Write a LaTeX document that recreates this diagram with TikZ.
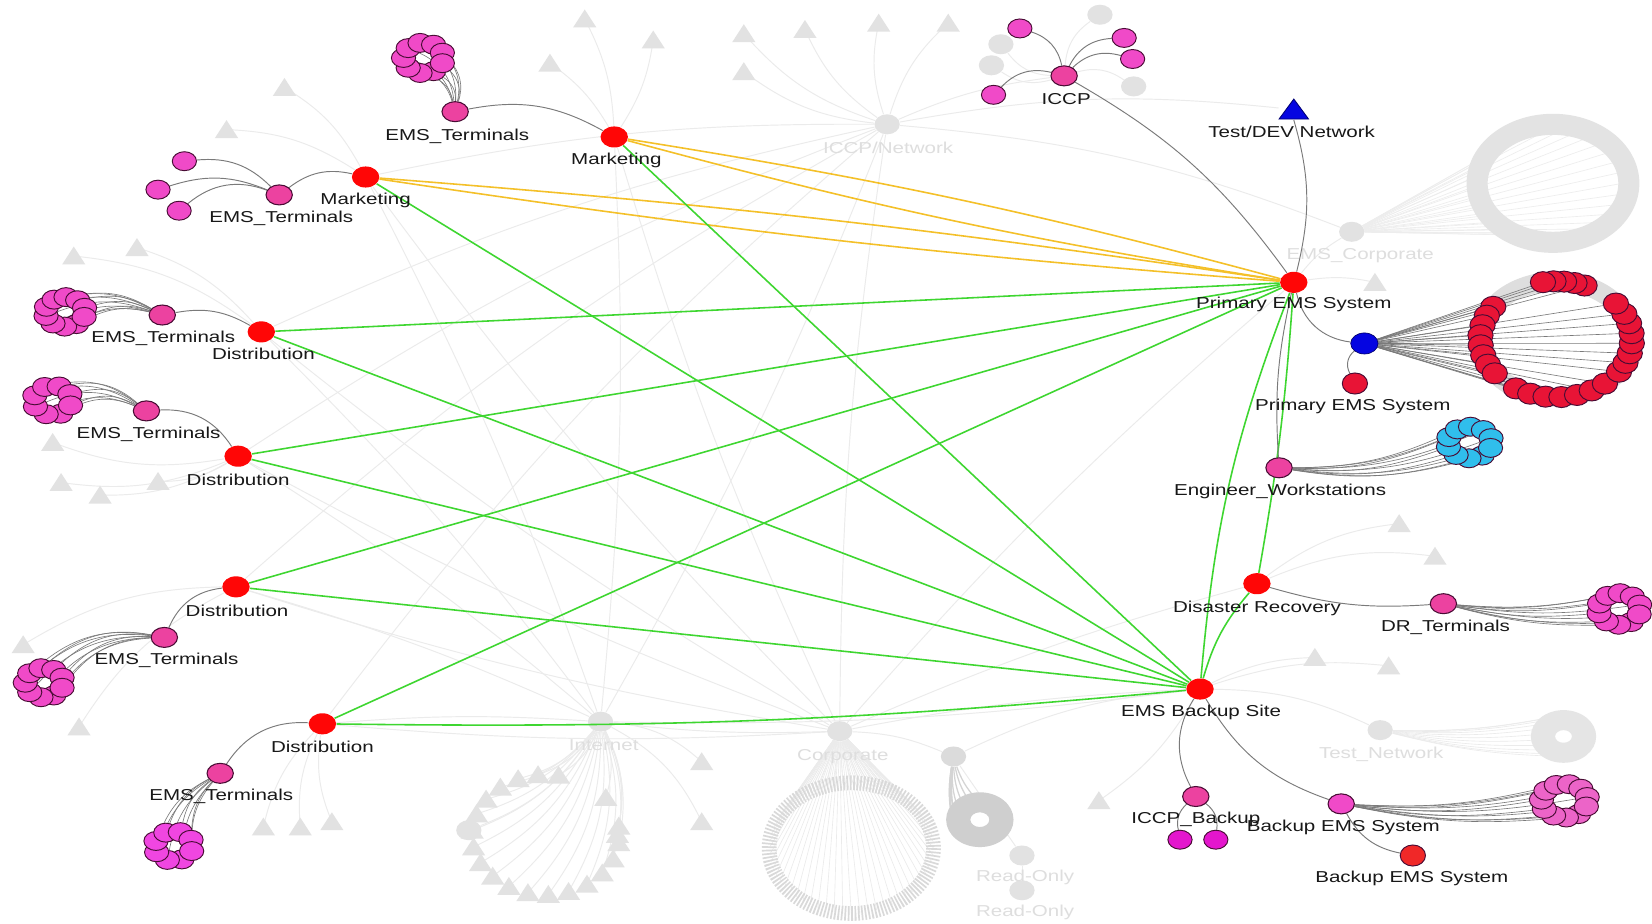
\documentclass[tikz,border=0pt]{standalone}
\usepackage{fontspec}
\setmainfont{Liberation Sans}[FakeStretch=1.3]
\usetikzlibrary{shapes.geometric}
\pgfdeclarelayer{paper}
\pgfdeclarelayer{ghostwires}
\pgfdeclarelayer{ghost}
\pgfdeclarelayer{wires}
\pgfsetlayers{paper,ghostwires,ghost,wires,main}

\definecolor{hubred}{RGB}{255,6,6}
\definecolor{termpink}{RGB}{236,66,160}
\definecolor{leafpink}{RGB}{240,74,200}
\definecolor{violetpink}{RGB}{240,70,225}
\definecolor{softpink}{RGB}{236,100,200}
\definecolor{magleaf}{RGB}{228,22,205}
\definecolor{rimdark}{RGB}{72,12,52}
\definecolor{ringred}{RGB}{232,20,54}
\definecolor{brightred}{RGB}{240,40,40}
\definecolor{wscyan}{RGB}{48,190,236}
\definecolor{hostblue}{RGB}{5,5,225}
\definecolor{linkgreen}{RGB}{62,214,48}
\definecolor{linkgold}{RGB}{244,192,40}
\definecolor{wire}{RGB}{122,122,122}
\definecolor{ghost}{RGB}{226,226,226}
\definecolor{ghostline}{RGB}{235,235,235}
\definecolor{ghosttext}{RGB}{222,222,222}
\definecolor{labelink}{RGB}{24,24,24}

% faded triangle marker with a named centre
\newcommand\gtri[3]{%
  \coordinate (#1) at ({#2},{#3});
  \fill[ghost] ({#2-11},{#3+8}) -- ({#2+11},{#3+8}) -- ({#2},{#3-9}) -- cycle;}

% ring of leaf nodes fed by a bundle of wires from a parent node
% #1 name, #2/#3 centre, #4/#5 radii, #6 count, #7 fill, #8 parent, #9 bend
\newcommand\flower[9]{%
  \foreach \k in {1,...,#6}{%
    \pgfmathsetmacro\fa{360*\k/#6+20}%
    \node[leaf, fill=#7] (#1\k) at ({#2+#4*cos(\fa)},{#3+#5*sin(\fa)}) {};
    \begin{pgfonlayer}{wires}\draw[bundle] (#8) to[#9] (#1\k);\end{pgfonlayer}
  }}

\begin{document}
\begin{tikzpicture}[x=0.5pt,y=-0.5pt,
  hub/.style={ellipse, fill=hubred, minimum width=13pt, minimum height=10pt, inner sep=0pt},
  term/.style={ellipse, draw=rimdark, line width=0.5pt, fill=termpink, minimum width=12.5pt, minimum height=9.5pt, inner sep=0pt},
  leaf/.style={ellipse, draw=rimdark, line width=0.45pt, minimum width=11.5pt, minimum height=9pt, inner sep=0pt},
  ghostnode/.style={ellipse, fill=ghost, minimum width=12pt, minimum height=9.5pt, inner sep=0pt},
  lbl/.style={font=\fontsize{7.5}{9}\selectfont, text=labelink, inner sep=0pt},
  ghostlbl/.style={lbl, text=ghosttext},
  wire/.style={draw=wire, line width=0.45pt},
  bundle/.style={draw=wire, line width=0.3pt},
  ghostwire/.style={draw=ghostline, line width=0.45pt},
  greenlink/.style={draw=linkgreen, line width=0.75pt},
  goldlink/.style={draw=linkgold, line width=0.75pt},
]
\begin{pgfonlayer}{paper}
  \fill[white] (0,0) rectangle (1568,877);
\end{pgfonlayer}
\useasboundingbox (0,0) rectangle (1568,877);

% ---------- site hubs ----------
\node[hub] (M1) at (583,130) {};
\node[hub] (M2) at (347,168) {};
\node[hub] (D1) at (248,315) {};
\node[hub] (D2) at (226,433) {};
\node[hub] (D3) at (224,557) {};
\node[hub] (D4) at (306,687) {};
\node[hub] (P)  at (1228,268) {};
\node[hub] (DR) at (1193,554) {};
\node[hub] (B)  at (1139,654) {};

% ---------- group nodes ----------
\node[term] (T1) at (432,106) {};
\node[term] (T2) at (265,185) {};
\node[term] (T3) at (154,299) {};
\node[term] (T4) at (139,390) {};
\node[term] (T5) at (156,605) {};
\node[term] (T6) at (209,734) {};
\node[term] (ICCP) at (1010,72) {};
\node[term] (EW) at (1214,444) {};
\node[term] (DRT) at (1370,573) {};
\node[term] (ICB) at (1135,756) {};
\node[term, fill=leafpink] (BES) at (1273,763) {};
\node[leaf, fill=brightred, minimum width=12pt, minimum height=10pt] (BESr) at (1341,812) {};
\node[ellipse, fill=hostblue, draw=blue!40!black, line width=0.3pt, minimum width=13pt, minimum height=10pt, inner sep=0pt] (HB) at (1295,326) {};
\node[leaf, fill=ringred, minimum width=12pt, minimum height=10pt] (PR) at (1286,364) {};

% Test/DEV network marker
\filldraw[fill=hostblue, draw=blue!45!black, line width=0.4pt] (1214,113) -- (1242,113) -- (1228,94) -- cycle;
\node[minimum width=14pt, minimum height=9.5pt, inner sep=0pt] (TD) at (1228,104) {};

% single leaves
\node[leaf, fill=leafpink] (T2a) at (175,153) {};
\node[leaf, fill=leafpink] (T2b) at (150,180) {};
\node[leaf, fill=leafpink] (T2c) at (170,200) {};
\node[leaf, fill=leafpink] (IC1) at (968,27) {};
\node[leaf, fill=leafpink] (IC2) at (1067,36) {};
\node[leaf, fill=leafpink] (IC3) at (1075,56) {};
\node[leaf, fill=leafpink] (IC4) at (943,90) {};
\node[leaf, fill=magleaf] (ICB1) at (1120,797) {};
\node[leaf, fill=magleaf] (ICB2) at (1154,797) {};

% ---------- terminal clusters ----------
\flower{fa}{402}{55}{19}{14.5}{9}{leafpink}{T1}{bend right=30}
\flower{fb}{62}{296}{19}{14}{10}{leafpink}{T3}{bend right=20}
\flower{fc}{50}{380}{18}{14}{8}{leafpink}{T4}{bend right=25}
\flower{fd}{42}{648}{18}{14}{9}{leafpink}{T5}{bend right=25}
\flower{fe}{165}{803}{18}{14}{8}{violetpink}{T6}{bend right=20}
\flower{ff}{1395}{420}{21}{15}{10}{wscyan}{EW}{bend right=12}
\flower{fg}{1537}{578}{20}{15}{10}{leafpink}{DRT}{bend right=8}
\flower{fh}{1485}{760}{22}{16}{11}{softpink}{BES}{bend right=8}

% ring of primary servers
\foreach \a [count=\k] in {68,76,84,92,100,146,156,166,176,186,196,206,216,238,250,262,274,286,298,310,326,336,346,356,6,16,26,38}{
  \node[leaf, fill=ringred, minimum width=12pt, minimum height=10pt] (rg\k) at ({1477+72*cos(\a)},{322-55*sin(\a)}) {};
  \begin{pgfonlayer}{wires}\draw[bundle] (HB) -- (rg\k);\end{pgfonlayer}
}

% ---------- faded background network ----------
\begin{pgfonlayer}{ghost}
  \node[ghostnode] (gICN) at (842,118) {};
  \node[ghostnode] (gEC) at (1283,220) {};
  \node[ghostnode] (gIN) at (570,685) {};
  \node[ghostnode] (gCO) at (797,694) {};
  \node[ghostnode, fill=gray!28] (gRO) at (905,718) {};
  \node[ghostnode] (gTN) at (1310,693) {};
  \node[ghostnode] (gR1) at (970,812) {};
  \node[ghostnode] (gR2) at (970,845) {};
  \node[ghostnode] (gL1) at (1044,14) {};
  \node[ghostnode] (gL2) at (950,42) {};
  \node[ghostnode] (gL3) at (941,62) {};
  \node[ghostnode] (gL4) at (1076,82) {};
  \gtri{ta1}{555}{18} \gtri{ta2}{620}{38} \gtri{ta3}{522}{60} \gtri{ta4}{706}{32}
  \gtri{ta5}{764}{28} \gtri{ta6}{834}{22} \gtri{ta7}{900}{22} \gtri{ta8}{706}{68}
  \gtri{tb1}{270}{83} \gtri{tb2}{215}{123} \gtri{tb3}{130}{235} \gtri{tb4}{70}{243}
  \gtri{tc1}{50}{420} \gtri{tc2}{58}{458} \gtri{tc3}{95}{470} \gtri{tc4}{150}{457}
  \gtri{td1}{22}{612} \gtri{td2}{75}{690} \gtri{td3}{250}{785} \gtri{td4}{285}{785} \gtri{td5}{315}{780}
  \gtri{te1}{1305}{268} \gtri{te2}{1328}{497} \gtri{te3}{1362}{528} \gtri{te4}{1248}{624}
  \gtri{te5}{1318}{632} \gtri{te6}{1043}{760}
  \gtri{tf1}{575}{757} \gtri{tf2}{586}{792} \gtri{tf3}{666}{723} \gtri{tf4}{666}{780}
  \foreach \a [count=\k] in {80,96,...,368}{\gtri{ti\k}{518+70*cos(\a)}{792-57*sin(\a)}}
  \node[ghostnode] (gIx) at (445,788) {};
  % halo behind the primary server ring
  \draw[gray!26, line width=9pt] (1477,322) ellipse [x radius=72, y radius=55];
  % EMS_Corporate ring
  \draw[gray!22, line width=10pt] (1474,174) ellipse [x radius=72, y radius=56];
  % Corporate ring of hosts
  \draw[gray!30, line width=7pt, dash pattern=on 0.8pt off 0.8pt] (808,805) ellipse [x radius=78, y radius=62];
  % Read-Only ring
  \fill[gray!38, even odd rule] (930,778) ellipse [x radius=32, y radius=26] (930,778) ellipse [x radius=9, y radius=7];
  % Test_Network ring
  \fill[gray!20, even odd rule] (1484,699) ellipse [x radius=31, y radius=25] (1484,699) ellipse [x radius=8, y radius=6];
  \node[ghostlbl] (lgICN) at (843,140) {ICCP/Network};
  \node[ghostlbl] (lgEC) at (1291,243) {EMS\_Corporate};
  \node[ghostlbl] (lgIN) at (573,707) {Internet};
  \node[ghostlbl] (lgCO) at (800,718) {Corporate};
  \node[ghostlbl] (lgTN) at (1311,716) {Test\_Network};
  \node[ghostlbl] (lgR1) at (973,833) {Read-Only};
  \node[ghostlbl] (lgR2) at (973,866) {Read-Only};
\end{pgfonlayer}

\begin{pgfonlayer}{ghostwires}
  \foreach \t in {ta4,ta5,ta6,ta7,ta8}{\draw[ghostwire] (gICN) to[bend left=15] (\t);}
  \foreach \t in {gEC,TD,ICCP}{\draw[ghostwire] (gICN) to[bend left=8] (\t);}
  \foreach \t in {gL1,gL2,gL3,gL4}{\draw[ghostwire] (ICCP) to[bend left=25] (\t);}
  \foreach \t in {ta1,ta2,ta3}{\draw[ghostwire] (M1) to[bend right=12] (\t);}
  \foreach \t in {tb1,tb2}{\draw[ghostwire] (M2) to[bend right=15] (\t);}
  \foreach \t in {tb3,tb4}{\draw[ghostwire] (D1) to[bend right=15] (\t);}
  \foreach \t in {tc1,tc2,tc3,tc4}{\draw[ghostwire] (D2) to[bend left=15] (\t);}
  \foreach \t in {td1,td2}{\draw[ghostwire] (D3) to[bend right=15] (\t);}
  \foreach \t in {td3,td4,td5}{\draw[ghostwire] (D4) to[bend right=15] (\t);}
  \foreach \t in {te1,gEC}{\draw[ghostwire] (P) to[bend left=10] (\t);}
  \foreach \t in {te2,te3}{\draw[ghostwire] (DR) to[bend left=15] (\t);}
  \foreach \t in {te4,te5,te6,gTN}{\draw[ghostwire] (B) to[bend left=12] (\t);}
  \foreach \k in {1,...,19}{\draw[ghostwire] (gIN) to[bend left=18] (ti\k);}
  \foreach \t in {tf1,tf2,tf3,tf4,gIx}{\draw[ghostwire] (gIN) to[bend left=18] (\t);}
  \foreach \t in {M1,M2,D1,D2,D3,D4,P,B,DR,gICN,gIN}{\draw[ghostwire] (gCO) to[bend left=4] (\t);}
  \foreach \t in {M1,M2,D1,D2,D3,D4,B,gICN}{\draw[ghostwire] (gIN) to[bend right=4] (\t);}
  \foreach \t in {D1,D2,D3,D4,M2}{\draw[ghostwire] (gICN) to[bend right=6] (\t);}
  \draw[ghostwire] (gRO) -- (gR1);
  \draw[ghostwire] (gR1) -- (gR2);
  \draw[ghostwire] (gRO) to[bend right=10] (gCO);
  \draw[ghostwire] (gRO) to[bend left=10] (B);
  % fans into the faded rings
  \foreach \a [count=\k] in {0,12,...,348}{
    \coordinate (ecr\k) at ({1474+66*cos(\a)},{174-50*sin(\a)});
    \draw[draw=gray!14, line width=0.3pt] (gEC) -- (ecr\k);}
  \foreach \a [count=\k] in {0,6,...,354}{
    \coordinate (cor\k) at ({808+78*cos(\a)},{805-62*sin(\a)});
    \draw[draw=gray!16, line width=0.3pt] (gCO) -- (cor\k);}
  \foreach \a [count=\k] in {100,115,...,220}{
    \coordinate (ror\k) at ({930+26*cos(\a)},{778-21*sin(\a)});
    \draw[draw=gray!34, line width=0.6pt] (gRO) to[bend right=10] (ror\k);}
  \foreach \a [count=\k] in {100,115,...,260}{
    \coordinate (tnr\k) at ({1484+26*cos(\a)},{699-20*sin(\a)});
    \draw[draw=gray!16, line width=0.3pt] (gTN) to[bend right=6] (tnr\k);}
\end{pgfonlayer}

% ---------- connectors ----------
\begin{pgfonlayer}{wires}
  % marketing links to the primary system
  \draw[goldlink] (M1) to[bend left=3] (P);
  \draw[goldlink] (M1) to[bend right=3] (P);
  \draw[goldlink] (M2) to[bend left=2] (P);
  \draw[goldlink] (M2) to[bend right=2] (P);
  % distribution links to the primary system
  \draw[greenlink] (D1) -- (P);
  \draw[greenlink] (D2) -- (P);
  \draw[greenlink] (D3) -- (P);
  \draw[greenlink] (D4) -- (P);
  % links to the backup site
  \draw[greenlink] (M1) -- (B);
  \draw[greenlink] (M2) -- (B);
  \draw[greenlink] (D1) -- (B);
  \draw[greenlink] (D2) -- (B);
  \draw[greenlink] (D3) -- (B);
  \draw[greenlink] (D4) to[bend right=3] (B);
  \draw[greenlink] (P) to[bend left=3] (DR);
  \draw[greenlink] (P) to[bend right=8] (B);
  \draw[greenlink] (DR) to[bend right=12] (B);
  % local wiring
  \draw[wire] (M1) to[bend right=20] (T1);
  \draw[wire] (M2) to[bend right=25] (T2);
  \draw[wire] (D1) to[bend right=20] (T3);
  \draw[wire] (D2) to[bend right=30] (T4);
  \draw[wire] (D3) to[bend right=30] (T5);
  \draw[wire] (D4) to[bend right=30] (T6);
  \draw[wire] (T2) to[bend right=25] (T2a);
  \draw[wire] (T2) to[bend right=20] (T2b);
  \draw[wire] (T2) to[bend right=30] (T2c);
  \draw[wire] (ICCP) to[bend right=30] (IC1);
  \draw[wire] (ICCP) to[bend left=30] (IC2);
  \draw[wire] (ICCP) to[bend left=30] (IC3);
  \draw[wire] (ICCP) to[bend right=30] (IC4);
  \draw[wire] (ICCP) to[bend left=12] (P);
  \draw[wire] (P) to[bend right=15] (TD.south);
  \draw[wire] (P) to[bend right=35] (HB);
  \draw[wire] (P) to[bend right=8] (EW);
  \draw[wire] (HB) to[bend right=40] (PR);
  \draw[wire] (DR) to[bend right=10] (DRT);
  \draw[wire] (B) to[bend right=30] (ICB);
  \draw[wire] (ICB) to[bend right=30] (ICB1);
  \draw[wire] (ICB) to[bend left=30] (ICB2);
  \draw[wire] (B) to[bend right=20] (BES);
  \draw[wire] (BES) to[bend right=25] (BESr);
\end{pgfonlayer}

% ---------- labels ----------
\node[lbl] (lT1) at (434,129) {EMS\_Terminals};
\node[lbl] (lM1) at (585,152) {Marketing};
\node[lbl] (lM2) at (347,190) {Marketing};
\node[lbl] (lT2) at (267,207) {EMS\_Terminals};
\node[lbl] (lT3) at (155,321) {EMS\_Terminals};
\node[lbl] (lD1) at (250,336) {Distribution};
\node[lbl] (lT4) at (141,412) {EMS\_Terminals};
\node[lbl] (lD2) at (226,455) {Distribution};
\node[lbl] (lD3) at (225,580) {Distribution};
\node[lbl] (lT5) at (158,627) {EMS\_Terminals};
\node[lbl] (lD4) at (306,709) {Distribution};
\node[lbl] (lT6) at (210,756) {EMS\_Terminals};
\node[lbl] (lICCP) at (1012,94) {ICCP};
\node[lbl] (lTD) at (1226,125) {Test/DEV Network};
\node[lbl] (lP) at (1228,289) {Primary EMS System};
\node[lbl] (lPR) at (1284,386) {Primary EMS System};
\node[lbl] (lEW) at (1215,466) {Engineer\_Workstations};
\node[lbl] (lDR) at (1193,577) {Disaster Recovery};
\node[lbl] (lDRT) at (1372,595) {DR\_Terminals};
\node[lbl] (lB) at (1140,676) {EMS Backup Site};
\node[lbl] (lICB) at (1135,778) {ICCP\_Backup};
\node[lbl] (lBES) at (1275,785) {Backup EMS System};
\node[lbl] (lBESr) at (1340,834) {Backup EMS System};
\end{tikzpicture}
\end{document}
